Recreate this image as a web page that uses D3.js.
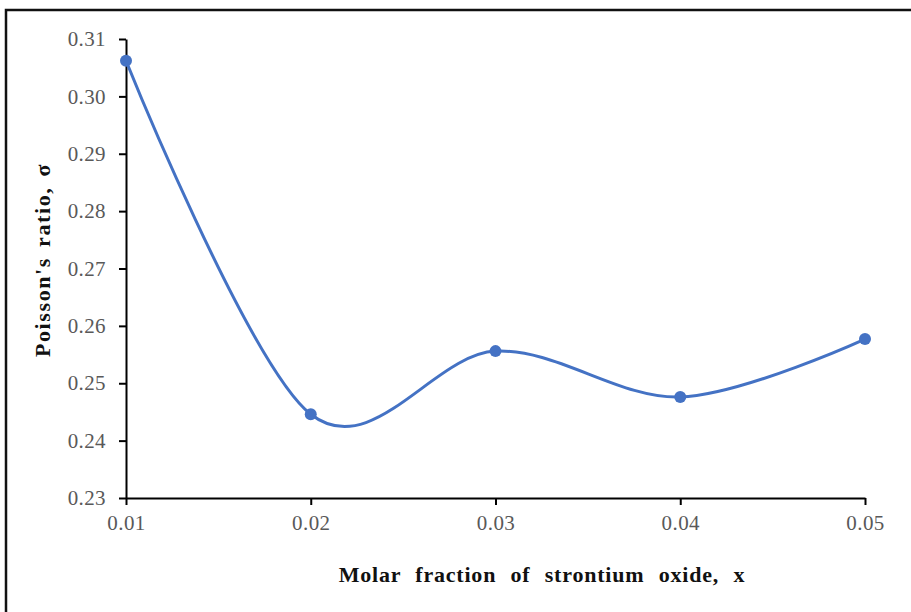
<!DOCTYPE html>
<html>
<head>
<meta charset="utf-8">
<script src="https://cdn.jsdelivr.net/npm/d3@7"></script>
<style>
  body { margin: 0; background: #fff; }
  svg { display: block; }
  .tick text { font-family: "Liberation Serif", serif; font-size: 21px; fill: #595959; letter-spacing: 0.4px; }
  .tick line, .domain { stroke: #000; stroke-width: 2; }
  .axis-title { font-family: "Liberation Serif", serif; font-weight: bold; font-size: 22px; fill: #111; }
</style>
</head>
<body>
<div id="chart"></div>
<script>
// molar fraction of SrO vs Poisson's ratio
const fractions = [0.01, 0.02, 0.03, 0.04, 0.05];
const poisson = [0.3062, 0.2446, 0.2556, 0.2476, 0.2577];
const xTicks = [0.01, 0.02, 0.03, 0.04, 0.05];
const yTicks = [0.23, 0.24, 0.25, 0.26, 0.27, 0.28, 0.29, 0.30, 0.31];

const W = 911, H = 612;
const margin = { top: 39, left: 126, right: 46, bottom: 114 };
const w = W - margin.left - margin.right;
const h = H - margin.top - margin.bottom;

const svg = d3.select("#chart").append("svg")
    .attr("width", W)
    .attr("height", H);

// frame of the original figure (cut off right and bottom)
svg.append("rect")
    .attr("x", 6).attr("y", 10)
    .attr("width", 1000).attr("height", 1000)
    .attr("fill", "none")
    .attr("stroke", "#111")
    .attr("stroke-width", 2.5);

const xScale = d3.scaleLinear().domain([0.01, 0.05]).range([0, w]);
const yScale = d3.scaleLinear().domain([0.23, 0.31]).range([h, 0]);

const g = svg.append("g")
    .attr("transform", "translate(" + margin.left + "," + margin.top + ")");

g.append("g")
    .attr("transform", "translate(0," + h + ")")
    .call(d3.axisBottom(xScale).tickValues(xTicks).tickSize(7).tickSizeOuter(0).tickFormat(d3.format(".2f")))
    .call(a => a.selectAll("text").attr("y", 14).attr("dy", "0.85em"));

g.append("g")
    .call(d3.axisLeft(yScale).tickValues(yTicks).tickSize(7).tickSizeOuter(0).tickFormat(d3.format(".2f")))
    .call(a => a.selectAll("text").attr("x", -20));

g.selectAll(".domain").attr("stroke-width", 2);

const pts = fractions.map((f, i) => [f, poisson[i]]);

const line = d3.line()
    .x(d => xScale(d[0]))
    .y(d => yScale(d[1]))
    .curve(d3.curveCardinal.tension(0));

g.append("path")
    .datum(pts)
    .attr("fill", "none")
    .attr("stroke", "#4472C4")
    .attr("stroke-width", 3)
    .attr("d", line);

g.selectAll("circle.pt")
    .data(pts)
    .enter().append("circle")
    .attr("class", "pt")
    .attr("cx", d => xScale(d[0]))
    .attr("cy", d => yScale(d[1]))
    .attr("r", 6)
    .attr("fill", "#4472C4");

svg.append("text")
    .attr("class", "axis-title")
    .attr("x", 542)
    .attr("y", 582)
    .attr("text-anchor", "middle")
    .attr("word-spacing", "8px")
    .attr("letter-spacing", "0.8px")
    .text("Molar fraction of strontium oxide, x");

svg.append("text")
    .attr("class", "axis-title")
    .attr("transform", "translate(50,260) rotate(-90)")
    .attr("text-anchor", "middle")
    .attr("letter-spacing", "1.6px")
    .attr("word-spacing", "3px")
    .text("Poisson's ratio, σ");
</script>
</body>
</html>
